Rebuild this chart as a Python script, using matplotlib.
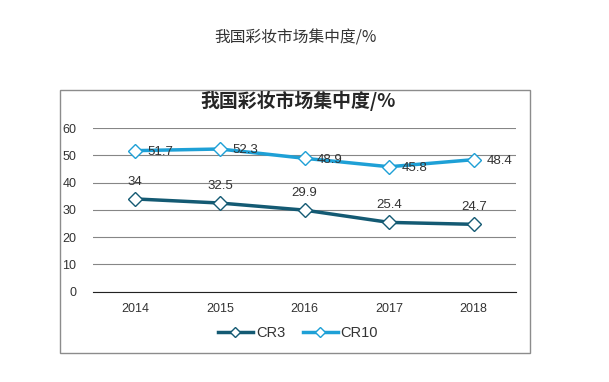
import matplotlib.pyplot as plt
from matplotlib.patches import Rectangle

years = ['2014', '2015', '2016', '2017', '2018']
cr3 = [34, 32.5, 29.9, 25.4, 24.7]
cr10 = [51.7, 52.3, 48.9, 45.8, 48.4]
title = '我国彩妆市场集中度/%'

plt.rcParams['font.family'] = ['Liberation Sans', 'Noto Sans CJK SC', 'DejaVu Sans']

fig = plt.figure(figsize=(6.09, 3.82), dpi=100)
W, H = 609, 382

# outer title
fig.text(296 / W, 1 - 38 / H, title, ha='center', va='center', fontsize=11.3,
         color='#333333', family=['Noto Sans CJK SC', 'DejaVu Sans'])

# chart box
fig.patches.append(Rectangle((60 / W, 1 - 353 / H), 470 / W, 263 / H, transform=fig.transFigure,
                             fill=False, edgecolor='#8c8c8c', linewidth=1))
fig.text(298 / W, 1 - 101 / H, title, ha='center', va='center', fontsize=13.6,
         fontweight='bold', color='#262626', family=['Noto Sans CJK SC', 'DejaVu Sans'])

ax = fig.add_axes([93 / W, 1 - 291.7 / H, 423 / W, 163.7 / H])
x = list(range(len(years)))
c3 = '#145a73'
c10 = '#1ea0d6'
ax.plot(x, cr3, color=c3, lw=2.5, marker='D', ms=7, mfc='white', mec=c3, mew=1, label='CR3', zorder=3)
ax.plot(x, cr10, color=c10, lw=2.5, marker='D', ms=7, mfc='white', mec=c10, mew=1, label='CR10', zorder=3)

for i, v in enumerate(cr3):
    ax.annotate(f'{v:g}', (i, v), xytext=(0, 8), textcoords='offset points', ha='center',
                va='bottom', fontsize=9.5, color='#333333')
for i, v in enumerate(cr10):
    ax.annotate(f'{v:g}', (i, v), xytext=(9, -1), textcoords='offset points', ha='left',
                va='center', fontsize=9.5, color='#333333')

ax.set_xlim(-0.5, 4.5)
ax.set_ylim(0, 60)
ax.set_yticks(range(0, 61, 10))
ax.set_xticks(x)
ax.set_xticklabels(years)
ax.grid(axis='y', color='#868686', lw=0.8)
ax.set_axisbelow(True)
for s in ['top', 'right', 'left']:
    ax.spines[s].set_visible(False)
ax.spines['bottom'].set_color('#222222')
ax.tick_params(length=0, labelsize=9, colors='#333333')
ax.tick_params(axis='x', pad=8)
ax.tick_params(axis='y', pad=12)

fig.legend(loc='center', bbox_to_anchor=(298 / W, 1 - 333 / H), ncol=2, frameon=False,
           fontsize=10.5, handlelength=2.4, columnspacing=1.2, handletextpad=0.2,
           markerscale=0.7, labelcolor='#333333')

fig.savefig('out.png', dpi=100)
